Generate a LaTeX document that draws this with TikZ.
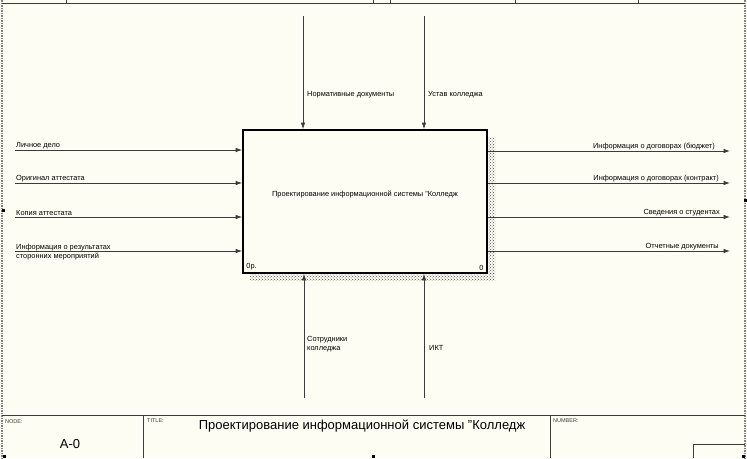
\documentclass[tikz,border=0pt]{standalone}
\usepackage{fontspec}
\setmainfont{Liberation Sans}
\usetikzlibrary{arrows.meta,positioning,patterns}
\definecolor{paper}{RGB}{254,253,243}
\definecolor{ink}{RGB}{60,60,60}
\tikzset{>={Latex[length=6.5pt,width=4.5pt]}}
\tikzset{
  arrowlabel/.style={font=\fontsize{7.4}{8.8}\selectfont, inner sep=1pt, align=left},
  flow/.style={->, draw=ink, line width=0.8pt},
  frame/.style={draw=ink, line width=0.8pt},
  handle/.style={fill=black, minimum size=3pt, inner sep=0pt},
}

\begin{document}
\begin{tikzpicture}[x=1pt,y=-1pt]
    \fill [paper] (0,0) rectangle (747,458);
    \useasboundingbox (0,0) rectangle (747,458);
    % page edges
    \draw [densely dotted, gray, line width=1.5pt] (2,0) -- (2,458);
    \draw [densely dotted, gray, line width=1.5pt] (745,0) -- (745,458);
    \draw [frame] (2,3) -- (745,3);
    \foreach \x in {66,373,390,515,638} \draw [frame] (\x,0) -- (\x,3);
    % activity box
    \fill [pattern=crosshatch dots, pattern color=black!70] (250,273) rectangle (495,280);
    \fill [pattern=crosshatch dots, pattern color=black!70] (487,137) rectangle (495,273);
    \node (proc) [draw, fill=paper, line width=1.6pt, minimum width=244pt, minimum height=143pt] at (365,201.5) {};
    \node (proctext) [arrowlabel] at (365,195) {Проектирование информационной системы \char34 Колледж};
    \node [arrowlabel, anchor=south west] at ([shift={(3pt,2.5pt)}]proc.south west) {0р.};
    \node [arrowlabel, anchor=south east] at ([shift={(-3pt,2.5pt)}]proc.south east) {0};
    % inputs
    \coordinate (in1) at (15,150);
    \coordinate (in2) at (15,183);
    \coordinate (in3) at (15,217);
    \coordinate (in4) at (15,251);
    \draw [flow] (in1) -- (in1 -| proc.west);
    \draw [flow] (in2) -- (in2 -| proc.west);
    \draw [flow] (in3) -- (in3 -| proc.west);
    \draw [flow] (in4) -- (in4 -| proc.west);
    \node [arrowlabel, anchor=south west] at (in1) {Личное дело};
    \node [arrowlabel, anchor=south west] at (in2) {Оригинал аттестата};
    \node [arrowlabel, anchor=south west] at (in3) {Копия аттестата};
    \node [arrowlabel, anchor=west] at ([yshift=-1pt]in4) {Информация о результатах\\сторонних мероприятий};
    % outputs
    \coordinate (out1) at (730,151);
    \coordinate (out2) at (730,183);
    \coordinate (out3) at (730,217);
    \coordinate (out4) at (730,251);
    \draw [flow] (out1 -| proc.east) -- (out1);
    \draw [flow] (out2 -| proc.east) -- (out2);
    \draw [flow] (out3 -| proc.east) -- (out3);
    \draw [flow] (out4 -| proc.east) -- (out4);
    \node [arrowlabel, anchor=south east] at ([xshift=-14pt]out1) {Информация о договорах (бюджет)};
    \node [arrowlabel, anchor=south east] at ([xshift=-10pt]out2) {Информация о договорах (контракт)};
    \node [arrowlabel, anchor=south east] at ([xshift=-9pt]out3) {Сведения о студентах};
    \node [arrowlabel, anchor=south east] at ([xshift=-10pt]out4) {Отчетные документы};
    % controls
    \coordinate (ctl1) at (303,16);
    \coordinate (ctl2) at (424,16);
    \draw [flow] (ctl1) -- (ctl1 |- proc.north);
    \draw [flow] (ctl2) -- (ctl2 |- proc.north);
    \node [arrowlabel, anchor=west] at (306,95) {Нормативные документы};
    \node [arrowlabel, anchor=west] at (427,95) {Устав колледжа};
    % mechanisms
    \coordinate (mech1) at (304,398);
    \coordinate (mech2) at (424,398);
    \draw [flow] (mech1) -- (mech1 |- proc.south);
    \draw [flow] (mech2) -- (mech2 |- proc.south);
    \node [arrowlabel, anchor=west] at (306,344) {Сотрудники\\колледжа};
    \node [arrowlabel, anchor=west] at (428,348) {ИКТ};
    % title block
    \draw [frame] (2,415) -- (745,415);
    \draw [frame] (143,415) -- (143,458);
    \draw [frame] (550,415) -- (550,458);
    \draw [frame] (693,458) -- (693,444) -- (745,444);
    \node [anchor=north west, inner sep=0pt, font=\fontsize{5.5}{6}\selectfont, text=ink] at (5,419) {NODE:};
    \node [anchor=north west, inner sep=0pt, font=\fontsize{5.5}{6}\selectfont, text=ink] at (147,419) {TITLE:};
    \node [anchor=north west, inner sep=0pt, font=\fontsize{5.5}{6}\selectfont, text=ink] at (553,419) {NUMBER:};
    \node [font=\fontsize{13}{15}\selectfont] at (70,444) {A-0};
    \node [font=\fontsize{13}{15}\selectfont] at (362,426) {Проектирование информационной системы \char34 Колледж};
    % selection handles
    \foreach \p in {(4,456),(373,456),(743,456),(3,210),(745,200)} \node [handle] at \p {};
  \end{tikzpicture}
\end{document}
